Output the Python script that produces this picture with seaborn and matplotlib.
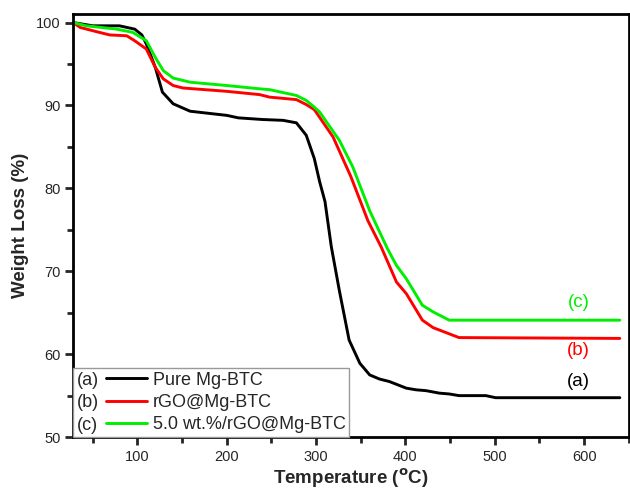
import matplotlib
matplotlib.use("Agg")
import matplotlib.pyplot as plt
import seaborn as sns
import pandas as pd
from matplotlib.legend_handler import HandlerBase
from matplotlib.lines import Line2D
from matplotlib.text import Text
from matplotlib.ticker import MultipleLocator

# ---------------- data ----------------
temp_a = [28, 50, 80, 97, 105, 110, 115, 120, 128, 140, 159, 200, 213, 240, 263, 278, 289,
          298, 304, 310, 317, 326, 337, 349, 360, 371, 382, 401, 412, 423, 438, 449, 460,
          490, 501, 640]
wt_a = [100, 99.6, 99.6, 99.2, 98.5, 97.4, 96.0, 94.6, 91.6, 90.2, 89.3, 88.8, 88.5, 88.3,
        88.2, 87.9, 86.4, 83.6, 80.8, 78.4, 73.0, 67.7, 61.7, 58.9, 57.5, 57.0, 56.7, 55.9,
        55.7, 55.6, 55.3, 55.2, 55.0, 55.0, 54.75, 54.75]

temp_b = [28, 36, 54, 69, 88, 97, 110, 120, 129, 140, 151, 200, 237, 248, 278, 289, 298,
          319, 339, 358, 373, 390, 401, 419, 431, 460, 640]
wt_b = [100, 99.4, 98.9, 98.5, 98.4, 97.8, 96.8, 94.6, 93.2, 92.4, 92.1, 91.7, 91.3, 91.0,
        90.7, 90.1, 89.5, 86.2, 81.4, 76.1, 72.9, 68.7, 67.3, 64.1, 63.2, 62.0, 61.9]

temp_c = [28, 43, 77, 95, 110, 120, 129, 140, 159, 200, 237, 248, 278, 289, 298, 304, 326,
          341, 360, 380, 390, 401, 419, 431, 449, 640]
wt_c = [100, 99.6, 99.2, 98.8, 97.8, 95.8, 94.2, 93.3, 92.8, 92.4, 92.0, 91.9, 91.2, 90.6,
        89.8, 89.2, 85.8, 82.6, 77.3, 72.7, 70.7, 69.1, 65.9, 65.1, 64.1, 64.1]

names = ["Pure Mg-BTC", "rGO@Mg-BTC", "5.0 wt.%/rGO@Mg-BTC"]
tags = ["(a)", "(b)", "(c)"]
colors = ["#000000", "#FF0000", "#00EE00"]
tag_y = [56.7, 60.4, 66.2]

# ---------------- style ----------------
sns.set_theme(style="white")
plt.rcParams["font.family"] = ["Liberation Sans", "DejaVu Sans"]

fig = plt.figure(figsize=(6.3, 4.9), dpi=100)
ax = fig.add_axes([0.116, 0.108, 0.882, 0.863])

series = [(temp_a, wt_a), (temp_b, wt_b), (temp_c, wt_c)]
handles = []
for (t, w), name, col in zip(series, names, colors):
    df = pd.DataFrame({"T": t, "W": w})
    sns.lineplot(data=df, x="T", y="W", ax=ax, color=col, lw=2.1, sort=False,
                 estimator=None, legend=False)
    handles.append(Line2D([], [], color=col, lw=2.1))

for tag, ty, col in zip(tags, tag_y, colors):
    ax.text(594, ty, tag, color=col, fontsize=13.5, ha="center", va="center")

ax.set_xlim(28, 650)
ax.set_ylim(50, 101)
ax.xaxis.set_major_locator(MultipleLocator(100))
ax.xaxis.set_minor_locator(MultipleLocator(50))
ax.yaxis.set_major_locator(MultipleLocator(10))
ax.yaxis.set_minor_locator(MultipleLocator(5))
ax.tick_params(which="major", direction="out", length=6, width=2, labelsize=10.5,
               bottom=True, left=True, top=False, right=False, pad=3)
ax.tick_params(which="minor", direction="out", length=4, width=2,
               bottom=True, left=True, top=False, right=False)
for s in ax.spines.values():
    s.set_linewidth(2)
    s.set_color("black")

ax.set_xlabel(r"Temperature ($\mathbf{^o}$C)", fontsize=13.5, fontweight="bold", labelpad=2)
ax.set_ylabel("Weight Loss (%)", fontsize=13.5, fontweight="bold", labelpad=5)


class TagHandler(HandlerBase):
    def __init__(self, tag, **kw):
        super().__init__(**kw)
        self.tag = tag

    def create_artists(self, legend, orig_handle, xdescent, ydescent, width, height,
                       fontsize, trans):
        yc = height / 2 - ydescent
        txt = Text(-xdescent, yc, self.tag, fontsize=fontsize, va="center_baseline",
                   ha="left", transform=trans, family=["Liberation Sans", "DejaVu Sans"])
        x0 = -xdescent + 1.65 * fontsize
        ln = Line2D([x0, width - xdescent], [yc, yc], color=orig_handle.get_color(),
                    lw=orig_handle.get_linewidth(), transform=trans)
        return [txt, ln]


leg = ax.legend(handles, names, loc="lower left", bbox_to_anchor=(0, 0),
                borderaxespad=0.0, fontsize=13, handlelength=3.9, handletextpad=0.3,
                labelspacing=0.3, borderpad=0.2, fancybox=False, framealpha=1,
                edgecolor="#999999",
                handler_map={h: TagHandler(t) for h, t in zip(handles, tags)})
leg.get_frame().set_linewidth(1)

fig.savefig("out.png", dpi=100)
